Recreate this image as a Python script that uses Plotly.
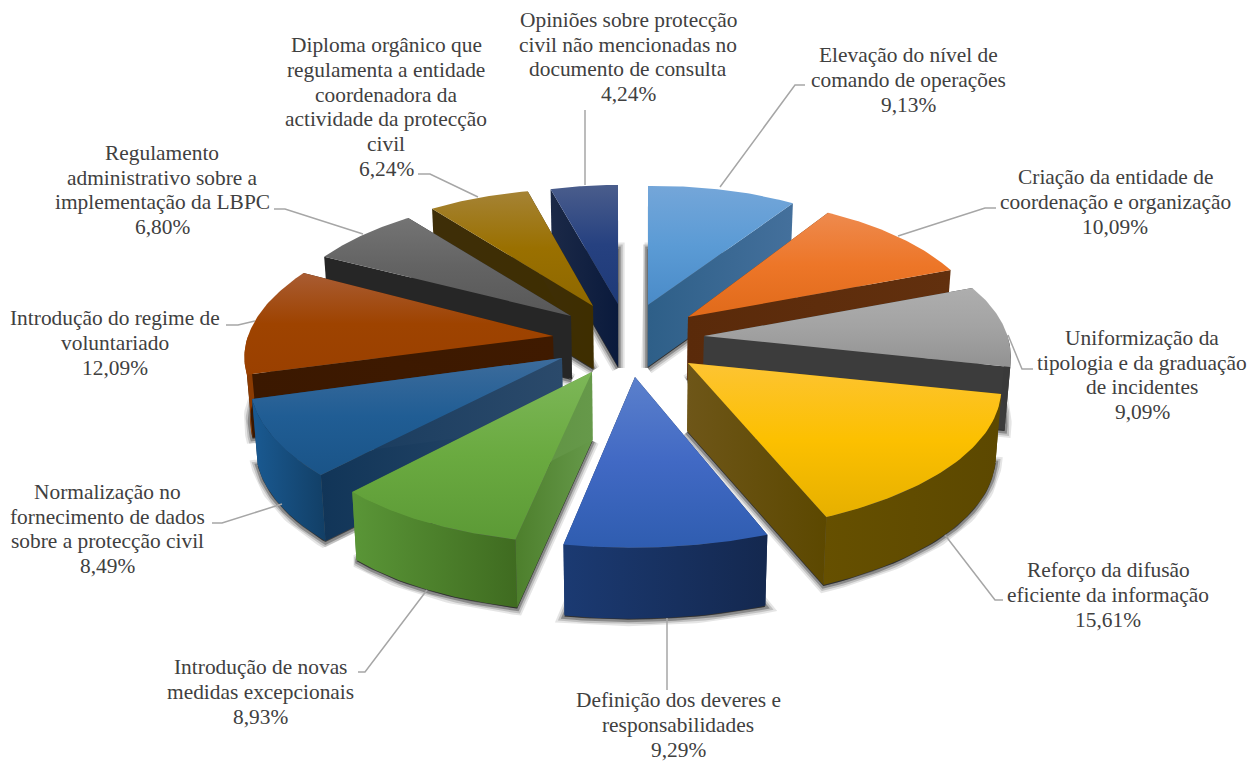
import math
import plotly.graph_objects as go

# ---- data ----
labels = [
    "Elevação do nível de<br>comando de operações",
    "Criação da entidade de<br>coordenação e organização",
    "Uniformização da<br>tipologia e da graduação<br>de incidentes",
    "Reforço da difusão<br>eficiente da informação",
    "Definição dos deveres e<br>responsabilidades",
    "Introdução de novas<br>medidas excepcionais",
    "Normalização no<br>fornecimento de dados<br>sobre a protecção civil",
    "Introdução do regime de<br>voluntariado",
    "Regulamento<br>administrativo sobre a<br>implementação da LBPC",
    "Diploma orgânico que<br>regulamenta a entidade<br>coordenadora da<br>actividade da protecção<br>civil",
    "Opiniões sobre protecção<br>civil não mencionadas no<br>documento de consulta",
]
values = [9.13, 10.09, 9.09, 15.61, 9.29, 8.93, 8.49, 12.09, 6.80, 6.24, 4.24]
value_text = ["9,13%", "10,09%", "9,09%", "15,61%", "9,29%", "8,93%", "8,49%", "12,09%", "6,80%", "6,24%", "4,24%"]

# ---- projected geometry of the exploded, tilted pie (page pixels) ----
apex_x = [648, 688, 704, 688, 635, 592, 562, 553, 571, 593, 618]
apex_y = [305, 317, 336, 363, 377, 372, 358, 336, 316, 306, 304]
rx_from = [267, 258, 287, 320, 355, 382, 349, 318, 279, 263, 256]
rx_to = [267, 281, 313, 371, 357, 347, 322, 282, 266, 248, 256]
ry_from = [119, 124, 135, 150, 170, 171, 162, 143, 127, 123, 119]
ry_to = [121, 132, 150, 166, 171, 166, 151, 135, 124, 119, 119]
depth = [62, 63, 63, 68, 71, 68, 66, 63, 63, 63, 63]
paint_order = [0, 10, 9, 1, 8, 2, 7, 3, 6, 5, 4]
vanish_x = 630
vanish_shrink = 0.015

# ---- styles ----
top_colors = [
    ("#74a6d9", "#5b9bd5", "#4a8bc8"), ("#ee8a4e", "#ed7628", "#e06a1a"),
    ("#aeaeae", "#a3a3a3", "#929292"), ("#fdc433", "#fcc000", "#e6b000"),
    ("#5b80cc", "#4169c4", "#2f5db0"), ("#7db758", "#6aaa40", "#5c9a36"),
    ("#3d6c9c", "#205d94", "#1a5488"), ("#a95c33", "#9e4300", "#9a4000"),
    ("#747474", "#636363", "#585858"), ("#a58335", "#9a7000", "#8e6800"),
    ("#4a5d8c", "#264180", "#1e3a78"),
]
cut_colors = [
    ("#2e5f88", "#44709c"), ("#5a2a0a", "#62300e"), ("#3c3c3c", "#3c3c3c"),
    ("#6e5618", "#5c4800"), ("#1b3a72", "#14284f"), ("#4d7f2c", "#66994a"),
    ("#113558", "#2b4a6b"), ("#3b1800", "#3f1a00"), ("#262626", "#262626"),
    ("#3e2e08", "#3e2e00"), ("#1b2947", "#0a1a3c"),
]
wall_colors = [
    ("#2e5f88", "#44709c"), ("#5a2a0a", "#62300e"), ("#3a3a3a", "#3a3a3a"),
    ("#665000", "#5c4800"), ("#1b3a72", "#14284f"), ("#5a9637", "#3f6b20"),
    ("#1a5a92", "#123f66"), ("#8b3b02", "#8b3b02"), ("#262626", "#262626"),
    ("#3e2e00", "#3e2e00"), ("#1b2947", "#0a1a3c"),
]
label_x = [908, 1115, 1142, 1108, 678, 260, 107, 115, 162, 386, 628]
label_y = [80, 202, 375, 595, 725, 692, 529, 343, 190, 107, 57]
line_step = 24.7
leader_x = [(720, 795, 805), (898, 985, 996), (1008, 1022, 1033), (945, 995, 1003), (667, 667, 667),
            (427, 365, 358), (282, 222, 212), (255, 238, 226), (363, 285, 274), (478, 430, 418), (585, 585, 585)]
leader_y = [(187, 85, 85), (236, 208, 208), (335, 369, 369), (535, 600, 600), (618, 655, 690),
            (590, 672, 672), (504, 523, 523), (321, 325, 325), (234, 209, 209), (197, 174, 174), (185, 150, 110)]
TEXT = "#404040"
LEADER = "#a6a6a6"

# ---- slice outlines from the values ----
total = sum(values)
spans = []
acc = 0.0
for v in values:
    spans.append((acc / total * 2 * math.pi, (acc + v) / total * 2 * math.pi))
    acc += v


def arc(i, n=48):
    a0, a1 = spans[i]
    pts = []
    for k in range(n + 1):
        t = k / n
        ang = a0 + (a1 - a0) * t
        rx = rx_from[i] + (rx_to[i] - rx_from[i]) * t
        ry = ry_from[i] + (ry_to[i] - ry_from[i]) * t
        pts.append((apex_x[i] + rx * math.sin(ang), apex_y[i] - ry * math.cos(ang), math.cos(ang)))
    return pts


def lower(p, d):
    """Bottom-face counterpart of a top-face point."""
    return (p[0] - (p[0] - vanish_x) * vanish_shrink, p[1] + d)


def poly(fig, pts, fill=None, gradient=None, stroke=None):
    xs = [p[0] for p in pts] + [pts[0][0]]
    ys = [p[1] for p in pts] + [pts[0][1]]
    kw = dict(x=xs, y=ys, mode="lines", fill="toself", line=dict(width=0),
              hoverinfo="skip", showlegend=False)
    if stroke:
        kw["line"] = dict(width=stroke[0], color=stroke[1])
    if gradient:
        direction, cols = gradient
        scale = [[j / (len(cols) - 1), c] for j, c in enumerate(cols)]
        vals = xs if direction == "horizontal" else ys
        kw["fillgradient"] = dict(type=direction, colorscale=scale, start=min(vals), stop=max(vals))
    else:
        kw["fillcolor"] = fill
    fig.add_trace(go.Scatter(**kw))


fig = go.Figure()

# soft shadows under every slice: stacked translucent strokes round the bottom face
for width, alpha in [(13, 0.10), (9, 0.16), (5, 0.28)]:
    for i in range(len(values)):
        apex = (apex_x[i], apex_y[i])
        pts = [lower(apex, depth[i])] + [lower(p, depth[i]) for p in arc(i)]
        poly(fig, [(x, y + 1) for x, y in pts], fill="rgba(0,0,0,0.3)",
             stroke=(width, f"rgba(0,0,0,{alpha})"))

# slices, back to front
for i in paint_order:
    a = arc(i)
    d = depth[i]
    apex = (apex_x[i], apex_y[i])
    for end in (a[0], a[-1]):
        poly(fig, [apex, end[:2], lower(end, d), lower(apex, d)],
             gradient=("horizontal", cut_colors[i]))
    front = [p for p in a if p[2] < 0.02]
    if len(front) > 1:
        poly(fig, [p[:2] for p in front] + [lower(p, d) for p in reversed(front)],
             gradient=("horizontal", wall_colors[i]))
    poly(fig, [apex] + [p[:2] for p in a], gradient=("vertical", top_colors[i]))

# leader lines
for lx, ly in zip(leader_x, leader_y):
    fig.add_trace(go.Scatter(x=list(lx), y=list(ly), mode="lines", line=dict(color=LEADER, width=1.5),
                             hoverinfo="skip", showlegend=False))

# labels, one annotation per text line so that the line spacing can follow the reference
for name, val, x, y in zip(labels, value_text, label_x, label_y):
    rows = name.split("<br>") + [val]
    for k, row in enumerate(rows):
        fig.add_annotation(x=x, y=y + (k - (len(rows) - 1) / 2) * line_step, xref="x", yref="y",
                           text=row, showarrow=False, align="center", xanchor="center", yanchor="middle",
                           font=dict(family="Liberation Serif", size=21.4, color=TEXT))

fig.update_layout(
    width=1250, height=762, margin=dict(l=0, r=0, t=0, b=0),
    paper_bgcolor="white", plot_bgcolor="white", showlegend=False,
    xaxis=dict(range=[0, 1250], visible=False, fixedrange=True),
    yaxis=dict(range=[762, 0], visible=False, fixedrange=True),
)
fig.write_html("out.html", config={"displayModeBar": False},
               post_script="document.body.style.margin='0';document.body.style.overflow='hidden';")
